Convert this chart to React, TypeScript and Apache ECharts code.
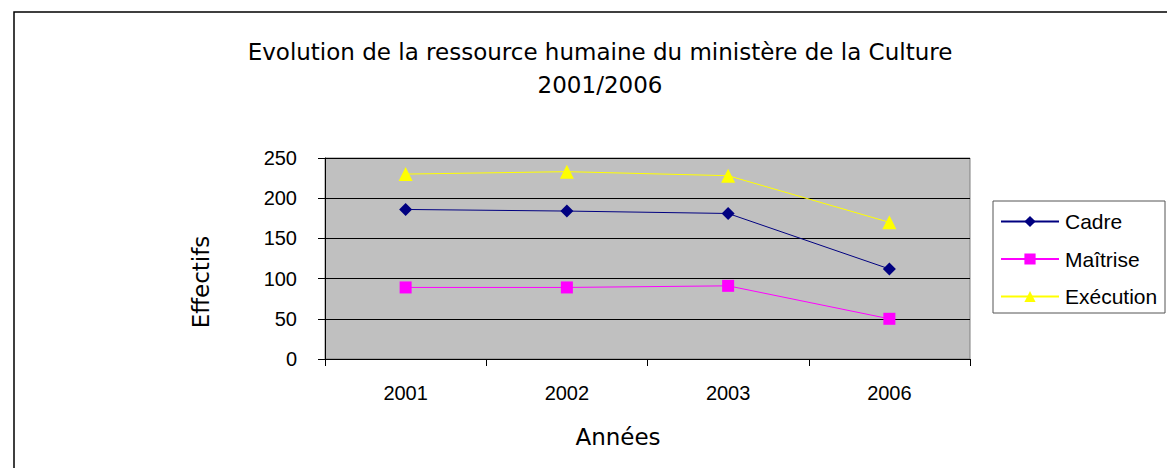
import React, { useEffect, useRef } from "react";
import * as echarts from "echarts";

const categories = ["2001", "2002", "2003", "2006"];
const cadre = [186, 184, 181, 112];
const maitrise = [89, 89, 91, 50];
const execution = [230, 233, 228, 170];
const yTicks = { min: 0, max: 250, interval: 50 };

const titleFont = "'DejaVu Sans', Verdana, sans-serif";
const armFont = "'Liberation Sans', Arial, sans-serif";

export default function App() {
  const ref = useRef<HTMLDivElement>(null);
  useEffect(() => {
    if (!ref.current) return;
    const chart = echarts.init(ref.current, undefined, { renderer: "svg" });
    const mk = (name: string, data: number[], color: string, symbol: string, size: number) => ({
      name,
      type: "line",
      data,
      symbol,
      symbolSize: size,
      lineStyle: { color, width: 1 },
      itemStyle: { color },
      emphasis: { disabled: true },
    });
    chart.setOption({
      animation: false,
      backgroundColor: "#ffffff",
      grid: {
        left: 325,
        top: 158,
        width: 645,
        height: 201,
        show: true,
        backgroundColor: "#c0c0c0",
        borderColor: "#808080",
        borderWidth: 1,
      },
      xAxis: {
        type: "category",
        data: categories,
        boundaryGap: true,
        axisLine: { lineStyle: { color: "#000", width: 1 } },
        axisTick: { show: true, length: 7, lineStyle: { color: "#000" } },
        axisLabel: { color: "#000", fontFamily: armFont, fontSize: 20, margin: 24 },
        splitLine: { show: false },
      },
      yAxis: {
        type: "value",
        min: yTicks.min,
        max: yTicks.max,
        interval: yTicks.interval,
        axisLine: { show: true, lineStyle: { color: "#000", width: 1 } },
        axisTick: { show: true, length: 7, lineStyle: { color: "#000" } },
        axisLabel: { color: "#000", fontFamily: armFont, fontSize: 20, margin: 28 },
        splitLine: { show: true, lineStyle: { color: "#000", width: 1 } },
      },
      legend: {
        orient: "vertical",
        left: 1000,
        top: 211,
        padding: 0,
        itemWidth: 58,
        itemHeight: 14,
        itemGap: 16.5,
        textStyle: { color: "#000", fontFamily: armFont, fontSize: 21, lineHeight: 21, padding: [0, 0, 0, 1] },
        data: ["Cadre", "Maîtrise", "Exécution"],
      },
      graphic: [
        {
          type: "rect",
          shape: { x: 14, y: 12, width: 1300, height: 600 },
          style: { fill: "none", stroke: "#000", lineWidth: 1.5 },
          silent: true,
        },
        {
          type: "rect",
          shape: { x: 993, y: 201, width: 172, height: 112 },
          style: { fill: "none", stroke: "#555", lineWidth: 1 },
          silent: true,
        },
        {
          type: "text",
          x: 600,
          y: 52,
          style: {
            text: "Evolution de la ressource humaine du ministère de la Culture",
            fill: "#000",
            font: `23px ${titleFont}`,
            align: "center",
            verticalAlign: "middle",
          },
        },
        {
          type: "text",
          x: 600,
          y: 85,
          style: {
            text: "2001/2006",
            fill: "#000",
            font: `23px ${titleFont}`,
            align: "center",
            verticalAlign: "middle",
          },
        },
        {
          type: "text",
          x: 201,
          y: 282,
          rotation: Math.PI / 2,
          style: {
            text: "Effectifs",
            fill: "#000",
            font: `23px ${titleFont}`,
            align: "center",
            verticalAlign: "middle",
          },
        },
        {
          type: "text",
          x: 618,
          y: 437,
          style: {
            text: "Années",
            fill: "#000",
            font: `23px ${titleFont}`,
            align: "center",
            verticalAlign: "middle",
          },
        },
      ],
      series: [
        mk("Cadre", cadre, "#000080", "diamond", 13),
        mk("Maîtrise", maitrise, "#ff00ff", "rect", 12),
        mk("Exécution", execution, "#ffff00", "triangle", 14),
      ],
    });
    return () => chart.dispose();
  }, []);
  return (
    <div
      ref={ref}
      style={{ position: "fixed", left: 0, top: 0, width: 1167, height: 468 }}
    />
  );
}
